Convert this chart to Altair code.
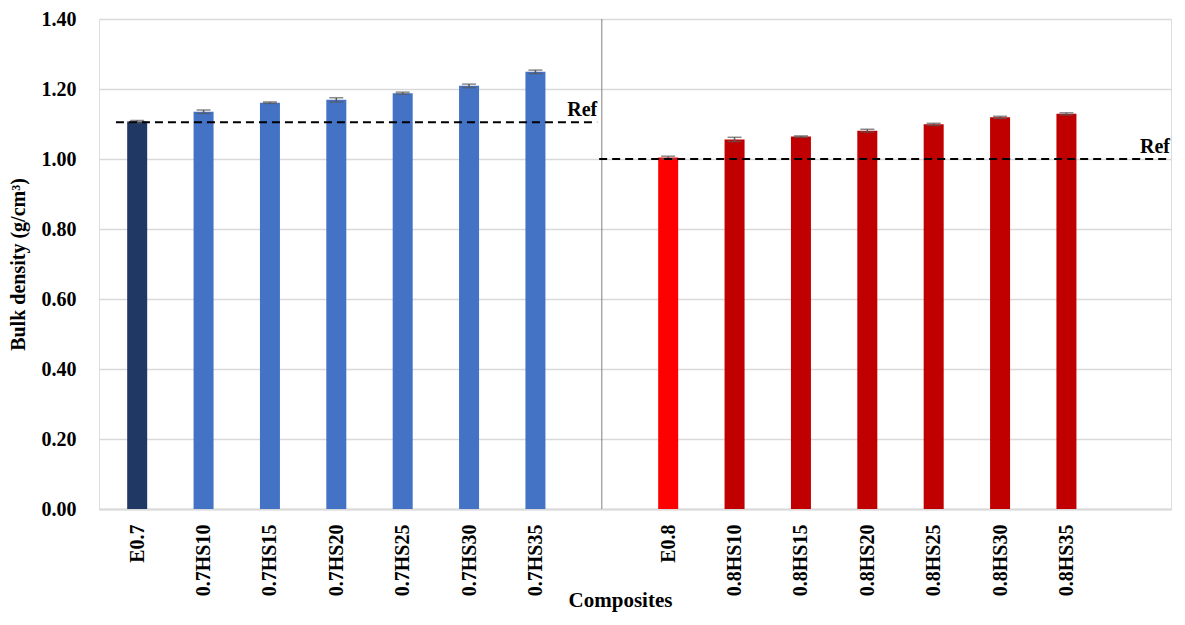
import altair as alt
import pandas as pd

group_07 = ["E0.7", "0.7HS10", "0.7HS15", "0.7HS20", "0.7HS25", "0.7HS30", "0.7HS35"]
values_07 = [1.107, 1.135, 1.161, 1.169, 1.188, 1.209, 1.249]
errors_07 = [0.003, 0.005, 0.002, 0.006, 0.003, 0.005, 0.005]
colors_07 = ["#203864"] + ["#4472C4"] * 6

group_08 = ["E0.8", "0.8HS10", "0.8HS15", "0.8HS20", "0.8HS25", "0.8HS30", "0.8HS35"]
values_08 = [1.004, 1.056, 1.064, 1.081, 1.099, 1.119, 1.129]
errors_08 = [0.004, 0.006, 0.002, 0.004, 0.003, 0.003, 0.003]
colors_08 = ["#FF0000"] + ["#C00000"] * 6

ref_values = [1.105, 1.00]
ref_starts = [-0.32, 6.96]
ref_ends = [6.93, 15.56]

y_ticks = [0.0, 0.2, 0.4, 0.6, 0.8, 1.0, 1.2, 1.4]

# slots: group 1, blank, group 2, blank
slots = group_07 + [""] + group_08 + [""]
gap = len(group_07)

rows = []
for i, (n, v, e, c) in enumerate(zip(group_07, values_07, errors_07, colors_07)):
    rows.append(dict(x=i, name=n, v=v, lo=v - e, hi=v + e, c=c))
for i, (n, v, e, c) in enumerate(zip(group_08, values_08, errors_08, colors_08)):
    rows.append(dict(x=gap + 1 + i, name=n, v=v, lo=v - e, hi=v + e, c=c))
df = pd.DataFrame(rows)

df_ref = pd.DataFrame(dict(x=ref_starts, x2=ref_ends, y=ref_values, t=["Ref", "Ref"]))
df_div = pd.DataFrame(dict(x=[gap], y=[y_ticks[0]], y2=[y_ticks[-1]]))

FONT = "Liberation Serif"
xscale = alt.Scale(domain=[-0.5, len(slots) - 0.5], nice=False, zero=False)
yscale = alt.Scale(domain=[y_ticks[0], y_ticks[-1]], nice=False)

label_expr = "[" + ",".join("'%s'" % s for s in slots) + "][datum.value]"
x_values = [i for i, s in enumerate(slots) if s]

x_axis = alt.Axis(
    values=x_values, labelExpr=label_expr, labelAngle=270, labelAlign="right",
    labelBaseline="middle", labelPadding=15, ticks=False, grid=False,
    domainColor="#d9d9d9", domainWidth=2, labelFont=FONT, labelFontSize=20,
    labelFontWeight="bold", labelColor="black", title="Composites",
    titleFont=FONT, titleFontSize=21, titleFontWeight="bold", titleColor="black",
    titleX=521, titleY=97, titleBaseline="alphabetic", titleAlign="center",
    labelOverlap=False,
)
y_axis = alt.Axis(
    values=y_ticks, format=".2f", ticks=False, domain=False, gridColor="#d9d9d9",
    gridWidth=1.5, labelPadding=23, labelFont=FONT, labelFontSize=20,
    labelFontWeight="bold", labelColor="black", title="Bulk density (g/cm³)",
    titleFont=FONT, titleFontSize=20, titleFontWeight="bold", titleColor="black",
    titleX=-81, titleY=245, titleAngle=270, titleAlign="center", titleBaseline="middle",
)

base = alt.Chart(df)
bars = base.mark_bar(size=20).encode(
    x=alt.X("x:Q", scale=xscale, axis=x_axis),
    y=alt.Y("v:Q", scale=yscale, axis=y_axis),
    color=alt.Color("c:N", scale=None),
)
err = base.mark_rule(color="#595959", strokeWidth=1.5).encode(
    x="x:Q", y="lo:Q", y2="hi:Q"
)
cap_lo = base.mark_tick(orient="horizontal", size=14, thickness=1.5, color="#595959").encode(
    x="x:Q", y="lo:Q"
)
cap_hi = base.mark_tick(orient="horizontal", size=14, thickness=1.5, color="#595959").encode(
    x="x:Q", y="hi:Q"
)
divider = alt.Chart(df_div).mark_rule(color="#7f7f7f", strokeWidth=1).encode(
    x="x:Q", y="y:Q", y2="y2:Q"
)
ref_lines = alt.Chart(df_ref).mark_rule(color="black", strokeWidth=2, strokeDash=[8, 5]).encode(
    x="x:Q", x2="x2:Q", y="y:Q"
)
ref_text = alt.Chart(df_ref).mark_text(
    align="right", baseline="alphabetic", dy=-6, font=FONT, fontSize=20,
    fontWeight="bold", color="black"
).encode(x="x2:Q", y="y:Q", text="t:N")

chart = alt.layer(divider, bars, err, cap_lo, cap_hi, ref_lines, ref_text).properties(
    width=1072, height=490,
    autosize=alt.AutoSizeParams(type="none"),
    padding={"left": 91, "top": 11, "right": 6, "bottom": 108},
).configure_view(stroke=None).configure(background="white")

chart.save("out.html", embed_options={"renderer": "svg", "actions": False})
